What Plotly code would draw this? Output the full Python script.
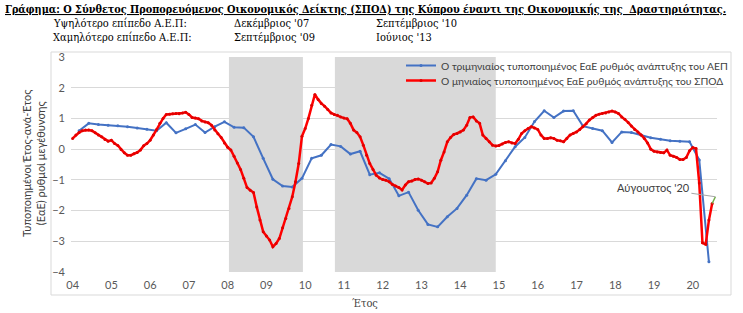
import plotly.graph_objects as go

# ---------------- data ----------------
years = ["04", "05", "06", "07", "08", "09", "10", "11", "12", "13",
         "14", "15", "16", "17", "18", "19", "20"]

# monthly composite leading indicator (Jan 2004 .. Jul 2020)
red_vals = [
    0.35, 0.46, 0.54, 0.60, 0.62, 0.62, 0.60, 0.53, 0.46, 0.40, 0.31, 0.26,   # 2004
    0.29, 0.18, 0.12, -0.01, -0.12, -0.20, -0.20, -0.15, -0.11, -0.03, 0.11, 0.18,  # 2005
    0.29, 0.46, 0.64, 0.84, 1.00, 1.13, 1.14, 1.15, 1.16, 1.15, 1.18, 1.20,   # 2006
    1.13, 1.03, 1.01, 0.99, 0.92, 0.88, 0.86, 0.78, 0.62, 0.50, 0.38, 0.20,   # 2007
    0.06, -0.03, -0.23, -0.45, -0.66, -0.95, -1.25, -1.34, -1.41, -1.88, -2.31, -2.69,  # 2008
    -2.83, -2.96, -3.18, -3.07, -2.91, -2.56, -2.26, -1.93, -1.55, -1.06, -0.47, 0.42,  # 2009
    0.67, 1.00, 1.43, 1.78, 1.62, 1.49, 1.40, 1.29, 1.18, 1.13, 1.10, 1.05,   # 2010
    1.01, 0.99, 0.84, 0.62, 0.54, 0.40, 0.13, -0.20, -0.47, -0.66, -0.85, -0.94,  # 2011
    -0.99, -1.01, -1.06, -1.15, -1.20, -1.25, -1.33, -1.17, -1.06, -1.04, -0.99, -0.97,  # 2012
    -1.01, -1.06, -1.12, -1.10, -0.95, -0.74, -0.36, -0.09, 0.24, 0.38, 0.48, 0.51,  # 2013
    0.56, 0.62, 0.78, 1.03, 1.05, 0.92, 0.84, 0.46, 0.35, 0.24, 0.13, 0.10,   # 2014
    0.12, 0.17, 0.22, 0.24, 0.20, 0.18, 0.32, 0.51, 0.60, 0.67, 0.73, 0.69,   # 2015
    0.64, 0.46, 0.35, 0.35, 0.37, 0.35, 0.29, 0.27, 0.24, 0.35, 0.46, 0.51,   # 2016
    0.56, 0.64, 0.73, 0.83, 0.95, 1.03, 1.10, 1.14, 1.16, 1.18, 1.21, 1.24,   # 2017
    1.21, 1.16, 1.05, 0.97, 0.87, 0.75, 0.64, 0.56, 0.46, 0.35, 0.20, 0.00,   # 2018
    -0.07, -0.09, -0.11, -0.12, -0.03, -0.20, -0.23, -0.27, -0.34, -0.34, -0.27, -0.05,  # 2019
    0.05, 0.02, -1.10, -3.05, -3.10, -2.31, -1.77,                            # 2020 Jan-Jul
]

# August 2020 flash value (green segment)
aug20_month = 199
aug20_val = -1.55

# quarterly GDP (end-of-quarter months: Mar 2004 .. Jun 2020)
blue_vals = [
    0.60, 0.84, 0.80, 0.78,      # 2004
    0.76, 0.73, 0.69, 0.65,      # 2005
    0.60, 0.86, 0.53, 0.66,      # 2006
    0.80, 0.54, 0.73, 0.89,      # 2007
    0.71, 0.70, 0.40, -0.30,     # 2008
    -0.98, -1.20, -1.23, -0.95,  # 2009
    -0.30, -0.20, 0.15, 0.09,    # 2010
    -0.16, -0.07, -0.83, -0.77,  # 2011
    -0.96, -1.52, -1.40, -1.99,  # 2012
    -2.45, -2.53, -2.20, -1.93,  # 2013
    -1.50, -0.96, -1.01, -0.82,  # 2014
    -0.38, 0.08, 0.38, 0.90,     # 2015
    1.25, 1.03, 1.24, 1.25,      # 2016
    0.75, 0.67, 0.60, 0.22,      # 2017
    0.56, 0.54, 0.46, 0.37,      # 2018
    0.32, 0.27, 0.26, 0.24,      # 2019
    -0.35, -3.67,                # 2020
]

# shaded recession periods (month index from Jan 2004)
shade_periods = [(48.4, 71.3), (81.2, 131.0)]

red_x = list(range(len(red_vals)))
blue_x = [2 + 3 * i for i in range(len(blue_vals))]
tick_x = [12 * i for i in range(len(years))]

# ---------------- layout geometry ----------------
W, H = 743, 313
L, R, T, B = 71, 26, 57, 41
pw, ph = W - L - R, H - T - B


def px_to_paper_x(px):
    return (px - L) / pw


def py_to_paper_y(py):
    return (H - B - py) / ph


SANS = "Lato, Roboto, sans-serif"
SERIF = "'DejaVu Serif Condensed', 'Liberation Serif', serif"

fig = go.Figure()

fig.add_trace(go.Scatter(
    x=blue_x, y=blue_vals, mode="lines+markers",
    name="Ο τριμηνιαίος τυποποιημένος ΕαΕ ρυθμός ανάπτυξης του ΑΕΠ",
    line=dict(color="#4472C4", width=2),
    marker=dict(size=3, color="#4472C4"),
    legend="legend",
))
fig.add_trace(go.Scatter(
    x=red_x, y=red_vals, mode="lines+markers",
    name="Ο μηνιαίος τυποποιημένος ΕαΕ ρυθμός ανάπτυξης του ΣΠΟΔ",
    line=dict(color="#FF0000", width=2.5),
    marker=dict(size=3, color="#E00000"),
    legend="legend2",
))
fig.add_trace(go.Scatter(
    x=[red_x[-1], aug20_month], y=[red_vals[-1], aug20_val], mode="lines",
    line=dict(color="#70AD47", width=1.5), showlegend=False,
))

shapes = []
for x0, x1 in shade_periods:
    shapes.append(dict(type="rect", xref="x", yref="y", x0=x0, x1=x1, y0=-4, y1=3,
                       fillcolor="#D9D9D9", line=dict(width=0), layer="between"))
# outer chart frame
shapes.append(dict(type="rect", xref="paper", yref="paper",
                   x0=px_to_paper_x(51), x1=px_to_paper_x(731),
                   y0=py_to_paper_y(295), y1=py_to_paper_y(52),
                   line=dict(color="#D9D9D9", width=1), fillcolor="rgba(0,0,0,0)",
                   layer="below"))

hdr_font = dict(family=SERIF, size=11, color="black")
annotations = [
    dict(text="<b><u>Γράφημα: Ο Σύνθετος Προπορευόμενος Οικονομικός Δείκτης (ΣΠΟΔ) της Κύπρου έναντι της Οικονομικής της  Δραστηριότητας.</u></b>",
         xref="paper", yref="paper", x=px_to_paper_x(3), y=py_to_paper_y(9),
         xanchor="left", yanchor="middle", showarrow=False,
         font=dict(family=SERIF, size=10.8, color="black")),
    dict(text="Υψηλότερο επίπεδο Α.Ε.Π:", xref="paper", yref="paper",
         x=px_to_paper_x(51), y=py_to_paper_y(24), xanchor="left", yanchor="middle",
         showarrow=False, font=hdr_font),
    dict(text="Δεκέμβριος '07", xref="paper", yref="paper",
         x=px_to_paper_x(232), y=py_to_paper_y(24), xanchor="left", yanchor="middle",
         showarrow=False, font=hdr_font),
    dict(text="Σεπτέμβριος '10", xref="paper", yref="paper",
         x=px_to_paper_x(374), y=py_to_paper_y(24), xanchor="left", yanchor="middle",
         showarrow=False, font=hdr_font),
    dict(text="Χαμηλότερο επίπεδο Α.Ε.Π:", xref="paper", yref="paper",
         x=px_to_paper_x(51), y=py_to_paper_y(38), xanchor="left", yanchor="middle",
         showarrow=False, font=hdr_font),
    dict(text="Σεπτέμβριος '09", xref="paper", yref="paper",
         x=px_to_paper_x(232), y=py_to_paper_y(38), xanchor="left", yanchor="middle",
         showarrow=False, font=hdr_font),
    dict(text="Ιούνιος '13", xref="paper", yref="paper",
         x=px_to_paper_x(374), y=py_to_paper_y(38), xanchor="left", yanchor="middle",
         showarrow=False, font=hdr_font),
    # axis titles
    dict(text="Τυποποιημένοι Έτος-ανά-Έτος<br>(ΕαΕ) ρυθμοί μεγέθυνσης", xref="paper", yref="paper",
         x=px_to_paper_x(33), y=py_to_paper_y(164), textangle=-90,
         xanchor="center", yanchor="middle", showarrow=False,
         font=dict(family=SANS, size=11, color="#404040")),
    dict(text="Έτος", xref="paper", yref="paper",
         x=px_to_paper_x(365), y=py_to_paper_y(303), xanchor="center", yanchor="middle",
         showarrow=False, font=dict(family=SERIF, size=11, color="#404040")),
    # August 2020 label
    dict(text="Αύγουστος '20", x=aug20_month, y=aug20_val, xref="x", yref="y",
         showarrow=True, arrowhead=0, arrowwidth=1, arrowcolor="#A6A6A6",
         ax=-62, ay=-9, font=dict(family=SANS, size=11, color="#404040")),
]

leg_common = dict(xanchor="left", yanchor="top", bgcolor="rgba(0,0,0,0)",
                  font=dict(family=SANS, size=10.3, color="#404040"), tracegroupgap=0)

fig.update_layout(
    width=W, height=H,
    margin=dict(l=L, r=R, t=T, b=B, pad=0, autoexpand=False),
    paper_bgcolor="white", plot_bgcolor="white",
    shapes=shapes, annotations=annotations,
    showlegend=True,
    legend=dict(x=px_to_paper_x(401), y=py_to_paper_y(51), **leg_common),
    legend2=dict(x=px_to_paper_x(401), y=py_to_paper_y(66), **leg_common),
    xaxis=dict(range=[-0.5, 199.5], tickvals=tick_x, ticktext=years, showgrid=False,
               zeroline=False, showline=False, ticks="", ticklabelstandoff=5,
               tickfont=dict(family=SANS, size=11, color="#595959")),
    yaxis=dict(range=[-4, 3], dtick=1, tick0=0, showgrid=True, gridcolor="#D9D9D9",
               gridwidth=1, zeroline=False, showline=False, ticks="", ticklabelstandoff=5,
               tickfont=dict(family=SANS, size=11, color="#595959")),
    font=dict(family=SANS),
)

fig.write_html("out.html")
